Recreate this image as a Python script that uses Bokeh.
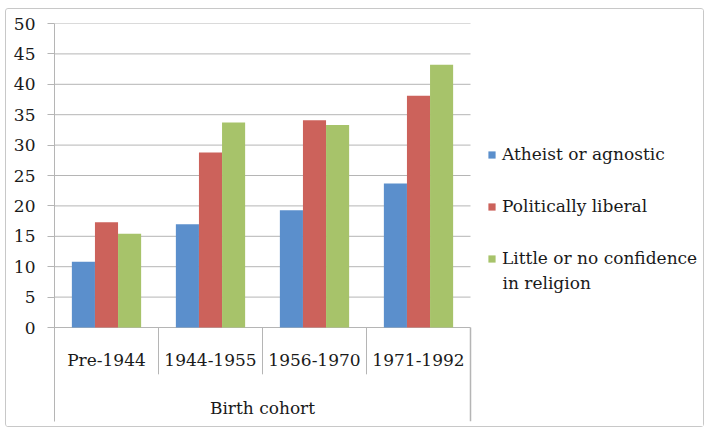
import numpy as np
from bokeh.plotting import figure
from bokeh.models import Range1d, FixedTicker, Legend, LegendItem, ColumnDataSource, Label
from bokeh.core.properties import value
from bokeh.embed import file_html
from bokeh.resources import INLINE

categories = ["Pre-1944", "1944-1955", "1956-1970", "1971-1992"]
series_names = ["Atheist or agnostic", "Politically liberal", "Little or no confidence"]
series_name_cont = "in religion"   # second line of the third series name
atheist = [10.8, 17.0, 19.3, 23.7]
liberal = [17.3, 28.8, 34.1, 38.1]
little_conf = [15.4, 33.7, 33.3, 43.2]
y_ticks = [0, 5, 10, 15, 20, 25, 30, 35, 40, 45, 50]
x_title = "Birth cohort"

colors = ["#5b8fcc", "#cc625b", "#a7c36a"]
FONT = "DejaVu Serif"
FS = "17px"
LINE = "#b5b5b5"
TXT = "#1a1a1a"

n_cat = len(categories)
FRAME_W = 645
PLOT_W = 416            # pixels used by the category area
X_END = n_cat * FRAME_W / PLOT_W
Y_BOTTOM = -15.46

p = figure(frame_width=FRAME_W, frame_height=398, output_backend="svg", toolbar_location=None,
           x_range=Range1d(0, X_END), y_range=Range1d(Y_BOTTOM, 50),
           min_border_left=48, min_border_right=4, min_border_top=14, min_border_bottom=5)
p.margin = (8, 5, 6, 5)
p.styles = {"border": "1px solid #c8c8c8", "border-radius": "3px", "box-sizing": "border-box"}
p.outline_line_color = None
p.background_fill_color = "white"
p.border_fill_color = "white"

# grid lines over the category area only
p.xgrid.visible = False
p.ygrid.visible = False
p.segment(x0=[0] * len(y_ticks), y0=y_ticks, x1=[n_cat] * len(y_ticks), y1=y_ticks,
          line_color=LINE, line_width=1)

idx = np.arange(n_cat) + 0.5
bar_w = 0.222
renderers = []
for k, (vals, col) in enumerate(zip([atheist, liberal, little_conf], colors)):
    src = ColumnDataSource(dict(x=idx + (k - 1) * bar_w, top=vals))
    r = p.vbar(x="x", top="top", bottom=0, width=bar_w, source=src,
               fill_color=col, line_color=None)
    renderers.append(r)

# axes
p.xaxis.visible = False
p.yaxis.ticker = FixedTicker(ticks=y_ticks)
p.yaxis.major_tick_in = 0
p.yaxis.major_tick_out = 7
p.yaxis.minor_tick_line_color = None
p.yaxis.axis_line_color = LINE
p.yaxis.major_tick_line_color = LINE
p.yaxis.major_label_text_font = FONT
p.yaxis.major_label_text_font_size = FS
p.yaxis.major_label_text_color = TXT
p.yaxis.major_label_standoff = 12

# category separators and right line of category area
bounds = np.arange(1, n_cat)
p.segment(x0=bounds, y0=0, x1=bounds, y1=-7.7, line_color=LINE, line_width=1)
p.segment(x0=[n_cat], y0=0, x1=[n_cat], y1=Y_BOTTOM, line_color=LINE, line_width=1.5)

# category labels and title
p.text(x=idx, y=[-5.3] * n_cat, text=categories, text_align="center",
       text_baseline="middle", text_font=value(FONT), text_font_size=FS, text_color=TXT)
p.text(x=[n_cat / 2], y=[-13.2], text=[x_title], text_align="center",
       text_baseline="middle", text_font=value(FONT), text_font_size=FS, text_color=TXT)

LEG_X, LEG_Y = 433, 153
GLYPH, STANDOFF = 9, 6
legend = Legend(items=[LegendItem(label=n, renderers=[r]) for n, r in zip(series_names, renderers)],
                location=(LEG_X, LEG_Y), orientation="vertical",
                glyph_width=GLYPH, glyph_height=GLYPH, label_standoff=STANDOFF, spacing=32,
                label_text_font=FONT, label_text_font_size=FS, label_text_color=TXT,
                border_line_color=None, background_fill_alpha=0, padding=0, margin=0)
p.add_layout(legend, "center")
p.add_layout(Label(x=LEG_X + GLYPH + STANDOFF, y=LEG_Y - 14, x_units="screen", y_units="screen",
                   text=series_name_cont, text_font=FONT, text_font_size=FS, text_color=TXT,
                   text_baseline="middle", text_align="left"))

open("out.html", "w").write(file_html(p, INLINE))
